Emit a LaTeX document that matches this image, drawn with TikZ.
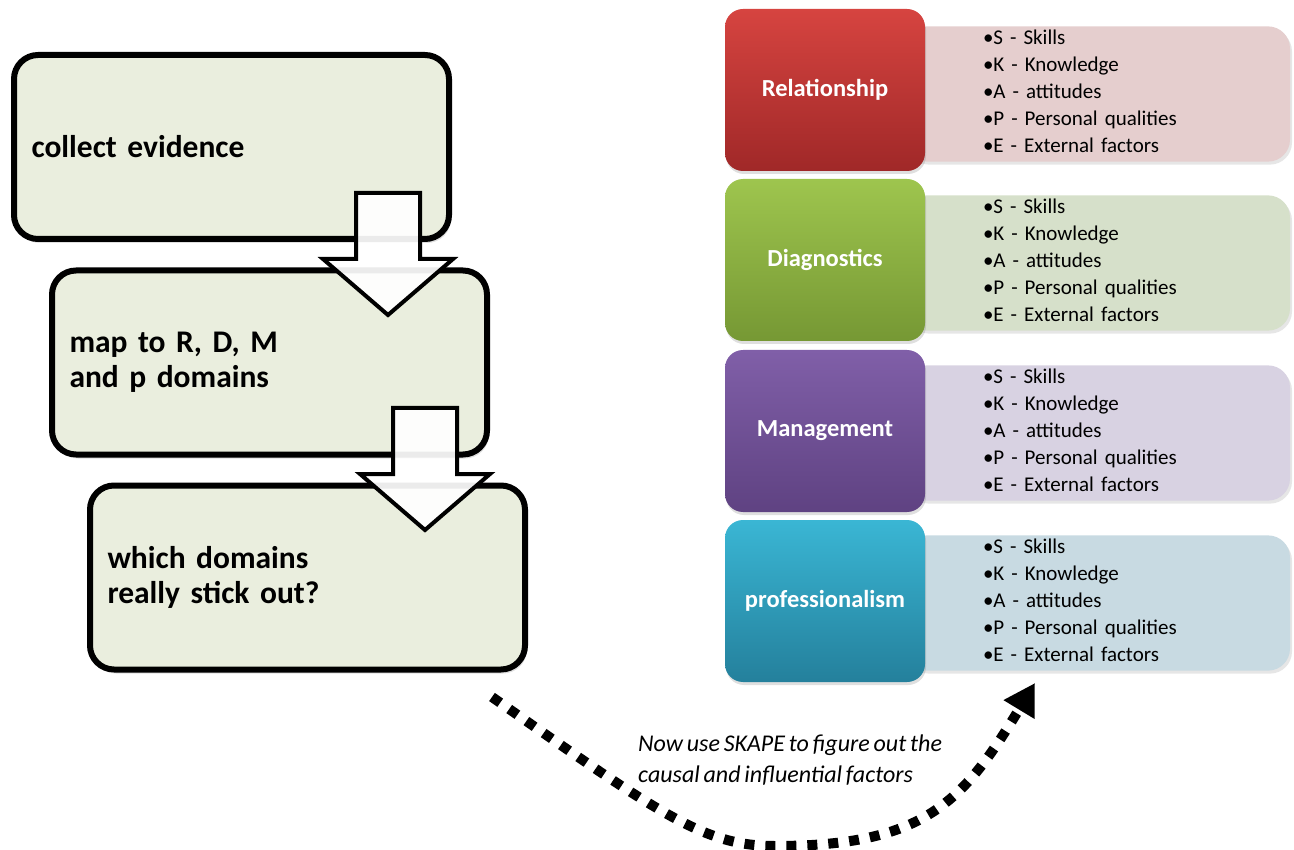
\documentclass[tikz,border=0pt]{standalone}
\usepackage{fontspec}
\setmainfont{Carlito}[WordSpace=0.7]
\usepackage{tikz}
\usetikzlibrary{arrows.meta,positioning,calc,shadows}
\definecolor{paleolive}{RGB}{234,238,222}
\definecolor{redtop}   {RGB}{214,68,64}  \definecolor{redbot}   {RGB}{160,40,40}  \definecolor{redpale}   {RGB}{229,206,206}
\definecolor{greentop} {RGB}{158,197,78} \definecolor{greenbot} {RGB}{118,152,52} \definecolor{greenpale} {RGB}{214,224,202}
\definecolor{purpletop}{RGB}{128,95,168} \definecolor{purplebot}{RGB}{95,66,130}  \definecolor{purplepale}{RGB}{216,210,226}
\definecolor{tealtop}  {RGB}{58,182,212} \definecolor{tealbot}  {RGB}{36,128,156} \definecolor{tealpale}  {RGB}{200,218,226}
\newcommand{\skapelist}{•S - Skills\\•K - Knowledge\\•A - attitudes\\•P - Personal qualities\\•E - External factors\rule[-6pt]{0pt}{6pt}}
\newcommand{\blockdown}[1]{\draw[blockarrow]($(#1)+(-32,0)$)--($(#1)+(32,0)$)--($(#1)+(32,66)$)--($(#1)+(65,66)$)
  --($(#1)+(0,122)$)--($(#1)+(-65,66)$)--($(#1)+(-32,66)$)--cycle;}

\begin{document}
\begin{tikzpicture}[
  x=1pt,y=-1pt,
  stepbox/.style={draw,line width=6pt,rounded corners=24pt,fill=paleolive,minimum width=435pt,minimum height=184pt,
    text width=400pt,align=left,font=\fontsize{31.5}{35}\selectfont\bfseries,
    drop shadow={opacity=0.25,shadow xshift=2pt,shadow yshift=-4pt}},
  blockarrow/.style={draw,line width=4pt,fill=white,fill opacity=0.92,line join=miter},
  domainbox/.style={rounded corners=18pt,minimum width=200pt,minimum height=162pt,text=white,
    font=\fontsize{24.5}{28}\selectfont\bfseries,drop shadow={opacity=0.25,shadow xshift=1pt,shadow yshift=-3pt}},
  detailbox/.style={rounded corners=22pt,minimum width=385pt,minimum height=132pt,text width=229pt,align=left,
    font=\fontsize{21}{27}\selectfont,drop shadow={opacity=0.2,shadow xshift=2pt,shadow yshift=-3pt}},
  dotarrow/.style={line width=10pt,dash pattern=on 10pt off 11pt,-{Triangle[length=31pt,width=34pt]}}]
  \useasboundingbox(0,0)rectangle(1294,850);
  % left: the three steps
  \node[stepbox](collect) at(231.5,147){collect evidence};
  \node[stepbox](map) at(269.5,362.5){map to R, D, M\\and p domains};
  \node[stepbox](stick) at(307.5,577.5){which domains\\really stick out?};
  \coordinate(a1) at(388,193);\coordinate(a2) at(425,408);
  \blockdown{a1}\blockdown{a2}
  % right: domains and SKAPE
  \node[detailbox,fill=redpale](reld) at(1097.5,94){\skapelist};
  \node[detailbox,fill=greenpale](diad) at(1097.5,263){\skapelist};
  \node[detailbox,fill=purplepale](mand) at(1097.5,433){\skapelist};
  \node[detailbox,fill=tealpale](prod) at(1097.5,603){\skapelist};
  \node[domainbox,top color=redtop,bottom color=redbot](rel) at(825,90){Relationship};
  \node[domainbox,top color=greentop,bottom color=greenbot](dia) at(825,260){Diagnostics};
  \node[domainbox,top color=purpletop,bottom color=purplebot](man) at(825,431){Management};
  \node[domainbox,top color=tealtop,bottom color=tealbot](pro) at(825,601){professionalism};
  % curved link
  \coordinate(arcfrom) at(492,697);\coordinate(arcmid) at(775,846);\coordinate(arcto) at(1035,683);
  \draw[dotarrow](arcfrom) .. controls (662,816) and (705,846) .. (arcmid)
    .. controls (925,846) and (963,802) .. (arcto);
  \node[anchor=north west,inner sep=0pt,align=left,font=\fontsize{24}{31}\selectfont\itshape](note) at(638,735)
    {Now use SKAPE to figure out the\\causal and influential factors};
\end{tikzpicture}
\end{document}
